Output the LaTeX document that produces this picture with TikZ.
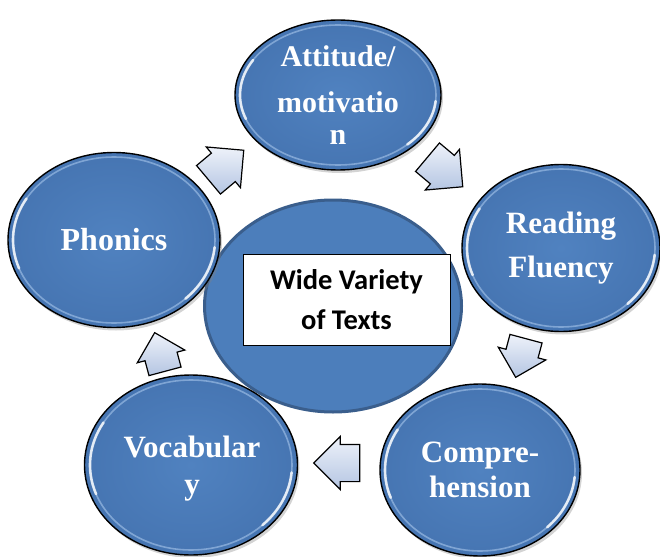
\documentclass[tikz,border=0pt]{standalone}
\usepackage{fontspec}
\setmainfont{Liberation Serif}
\newfontfamily\boxfont{Carlito}
\usetikzlibrary{shapes.geometric,shapes.arrows,shadows}
\definecolor{bubbleblue}{RGB}{80,130,192}
\definecolor{bubbleedge}{RGB}{70,117,178}
\definecolor{bubblerim}{RGB}{175,205,240}
\definecolor{coreblue}{RGB}{76,126,187}
\definecolor{coreedge}{RGB}{58,94,140}
\definecolor{arrowlight}{RGB}{238,242,250}
\definecolor{arrowdark}{RGB}{180,197,226}
\tikzset{
  bubble/.style={ellipse, draw=black, line width=1.4pt, inner sep=0pt,
    inner color=bubbleblue, outer color=bubbleedge,
    drop shadow={opacity=0.35, shadow xshift=2pt, shadow yshift=-3pt},
    text=white, font=\bfseries\fontsize{31}{39}\selectfont, align=center},
  rim/.style={draw=bubblerim, line width=1.6pt, opacity=0.55},
  gloss/.style={draw=white, line width=2.6pt, opacity=0.8, line cap=round},
  cyclearrow/.style={single arrow, draw=black, line width=1.2pt,
    minimum height=46pt, inner xsep=0pt, inner ysep=18pt,
    single arrow head extend=8pt,
    top color=arrowlight, bottom color=arrowdark},
  core/.style={ellipse, draw=coreedge, line width=3pt, fill=coreblue, inner sep=0pt},
  label box/.style={draw=black, line width=1pt, fill=white, inner sep=0pt,
    minimum width=207pt, minimum height=91pt, align=center,
    font=\boxfont\bfseries\fontsize{28.5}{40}\selectfont}
}
\begin{document}
\begin{tikzpicture}[x=1pt,y=-1pt]
\useasboundingbox (0,0) rectangle (660,556);
\clip (0,0) rectangle (660,556);

% central hub
\node[core, minimum width=257pt, minimum height=212pt] (hub) at (333,306) {};
\node[label box] (topic) at (346.5,299.5) {Wide Variety\\of Texts};

% outer cycle
\node[bubble, minimum width=206pt, minimum height=150pt,
      font=\bfseries\fontsize{30}{39}\selectfont] (att) at (338,95) {Attitude/\\[7pt]motivatio\\[-7pt]n};
\node[bubble, minimum width=198pt, minimum height=167pt] (flu) at (561,248) {Reading\\[5pt]Fluency};
\node[bubble, minimum width=200pt, minimum height=172pt] (comp) at (480,470) {Compre-\\[-4pt]hension};
\node[bubble, minimum width=213pt, minimum height=180pt] (voc) at (191,465) {};
\node[bubble, minimum width=212pt, minimum height=175pt,
      font=\bfseries\fontsize{32}{39}\selectfont] (pho) at (114,240) {Phonics};
\node[text=white, font=\bfseries\fontsize{31}{39}\selectfont, align=center] (voctext) at (192,469) {Vocabular\\[-2pt]y};

% glossy rims and highlights
\foreach \n/\rx/\ry in {att/98/70, flu/94/79, comp/95/81, voc/101/85, pho/101/83}{
  \draw[rim] (\n.center) ellipse[x radius=\rx pt, y radius=\ry pt];
  \draw[gloss] ([shift={(150:\rx pt and \ry pt)}]\n.center)
     arc[start angle=150, end angle=200, x radius=\rx pt, y radius=\ry pt];
  \draw[gloss] ([shift={(-5:\rx pt and \ry pt)}]\n.center)
     arc[start angle=-5, end angle=-45, x radius=\rx pt, y radius=\ry pt];
}

% block arrows between steps
\node[cyclearrow, rotate=40] (a1) at (219,171) {};
\node[cyclearrow, rotate=-40] (a2) at (438,166) {};
\node[cyclearrow, rotate=-105, minimum height=40pt, inner ysep=16pt] (a3) at (523,350) {};
\node[cyclearrow, rotate=180] (a4) at (346,463) {};
\node[cyclearrow, rotate=105, minimum height=40pt, inner ysep=16pt] (a5) at (162,360) {};
\end{tikzpicture}
\end{document}
